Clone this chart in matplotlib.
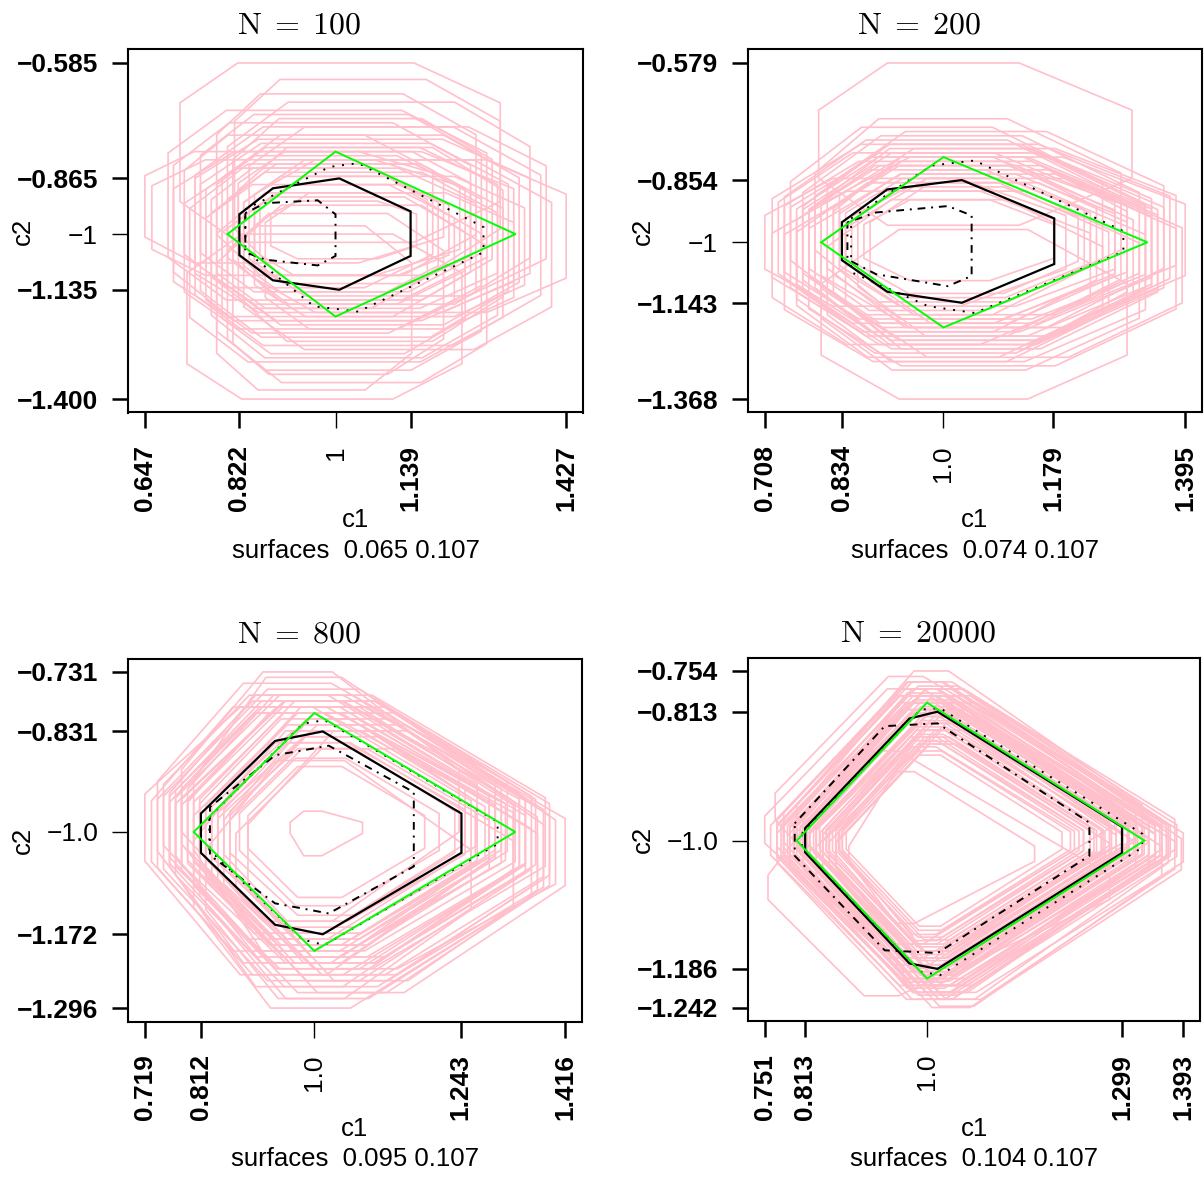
import matplotlib
matplotlib.use('Agg')
import matplotlib.pyplot as plt
from matplotlib.patches import Polygon

plt.rcParams['font.family'] = ['Liberation Sans', 'DejaVu Sans']
plt.rcParams['mathtext.fontset'] = 'cm'

W, H = 1204, 1178

# ---------------- data ----------------
titles = [r'$\mathrm{N}\;=\;100$', r'$\mathrm{N}\;=\;200$', r'$\mathrm{N}\;=\;800$', r'$\mathrm{N}\;=\;20000$']
surface_est = [0.065, 0.074, 0.095, 0.104]
surface_true = [0.107, 0.107, 0.107, 0.107]

xticks_n100 = [0.647, 0.822, 1.0, 1.139, 1.427]
xlabels_n100 = ['0.647', '0.822', '1', '1.139', '1.427']
yticks_n100 = [-1.400, -1.135, -1.0, -0.865, -0.585]
ylabels_n100 = ['\u22121.400', '\u22121.135', '\u22121', '\u22120.865', '\u22120.585']

xticks_n200 = [0.708, 0.834, 1.0, 1.179, 1.395]
xlabels_n200 = ['0.708', '0.834', '1.0', '1.179', '1.395']
yticks_n200 = [-1.368, -1.143, -1.0, -0.854, -0.579]
ylabels_n200 = ['\u22121.368', '\u22121.143', '\u22121', '\u22120.854', '\u22120.579']

xticks_n800 = [0.719, 0.812, 1.0, 1.243, 1.416]
xlabels_n800 = ['0.719', '0.812', '1.0', '1.243', '1.416']
yticks_n800 = [-1.296, -1.172, -1.0, -0.831, -0.731]
ylabels_n800 = ['\u22121.296', '\u22121.172', '\u22121.0', '\u22120.831', '\u22120.731']

xticks_n20000 = [0.751, 0.813, 1.0, 1.299, 1.393]
xlabels_n20000 = ['0.751', '0.813', '1.0', '1.299', '1.393']
yticks_n20000 = [-1.242, -1.186, -1.0, -0.813, -0.754]
ylabels_n20000 = ['\u22121.242', '\u22121.186', '\u22121.0', '\u22120.813', '\u22120.754']

# true region (green kite)
green_x = [0.8, 1.0, 1.3333, 1.0]
green_y = [-1.0, -0.8, -1.0, -1.2]

# estimated regions (black): solid, dotted (outer), dot-dash (inner)
solid_n100_x = [0.822, 0.884, 1.007, 1.139, 1.139, 1.007, 0.884, 0.822]
solid_n100_y = [-0.952, -0.889, -0.865, -0.945, -1.053, -1.135, -1.112, -1.051]
dotted_n100_x = [0.833, 0.989, 1.042, 1.274, 1.274, 1.042, 0.960, 0.833]
dotted_n100_y = [-0.940, -0.837, -0.828, -0.983, -1.044, -1.188, -1.175, -1.040]
dotdash_n100_x = [0.833, 0.870, 0.967, 1.000, 1.000, 0.967, 0.870, 0.833]
dotdash_n100_y = [-0.949, -0.925, -0.918, -0.952, -1.053, -1.076, -1.062, -1.044]

solid_n200_x = [0.834, 0.908, 1.030, 1.181, 1.181, 1.030, 0.908, 0.834]
solid_n200_y = [-0.953, -0.876, -0.854, -0.944, -1.051, -1.142, -1.116, -1.042]
dotted_n200_x = [0.849, 0.980, 1.051, 1.294, 1.294, 1.051, 0.975, 0.849]
dotted_n200_y = [-0.944, -0.820, -0.808, -0.974, -1.022, -1.166, -1.150, -1.070]
dotdash_n200_x = [0.843, 0.890, 1.007, 1.046, 1.046, 1.007, 0.890, 0.843]
dotdash_n200_y = [-0.953, -0.930, -0.915, -0.937, -1.079, -1.103, -1.075, -1.040]

solid_n800_x = [0.812, 0.935, 1.014, 1.244, 1.244, 1.014, 0.935, 0.812]
solid_n800_y = [-0.969, -0.847, -0.831, -0.969, -1.035, -1.172, -1.156, -1.035]
dotted_n800_x = [0.826, 0.981, 1.017, 1.304, 1.304, 1.017, 0.981, 0.826]
dotted_n800_y = [-0.975, -0.818, -0.812, -0.983, -1.020, -1.190, -1.181, -1.030]
dotdash_n800_x = [0.827, 0.935, 1.024, 1.165, 1.165, 1.024, 0.935, 0.827]
dotdash_n800_y = [-0.958, -0.871, -0.855, -0.933, -1.058, -1.137, -1.120, -1.039]

solid_n20000_x = [0.813, 0.973, 1.016, 1.299, 1.299, 1.016, 0.973, 0.813]
solid_n20000_y = [-0.982, -0.823, -0.813, -0.980, -1.018, -1.186, -1.178, -1.017]
dotted_n20000_x = [0.808, 0.990, 1.020, 1.330, 1.330, 1.020, 0.990, 0.808]
dotted_n20000_y = [-0.990, -0.810, -0.808, -0.990, -1.010, -1.195, -1.190, -1.010]
dotdash_n20000_x = [0.797, 0.935, 1.016, 1.249, 1.249, 1.016, 0.935, 0.797]
dotdash_n20000_y = [-0.975, -0.834, -0.830, -0.974, -1.022, -1.163, -1.159, -1.022]

# replicate regions (pink): (c1 min, c1 max, c2 min, c2 max, c1 of top/bottom corner, c2 of left/right corner)
pink_n100 = [
    (0.647, 1.20, -1.07, -0.80, 0.85, -0.93), (0.85, 1.427, -1.19, -0.82, 1.10, -1.005),
    (0.712, 1.305, -1.02, -0.585, 0.95, -0.80), (0.813, 1.305, -1.10, -0.625, 1.00, -0.85),
    (0.725, 1.234, -1.40, -1.00, 0.95, -1.21), (0.78, 1.141, -1.378, -0.98, 0.95, -1.18),
    (0.78, 1.27, -1.33, -0.90, 0.98, -1.12), (0.70, 1.25, -1.20, -0.73, 0.93, -0.96),
    (0.75, 1.32, -1.25, -0.78, 1.00, -1.00), (0.80, 1.36, -1.17, -0.68, 1.05, -0.92),
    (0.72, 1.18, -1.13, -0.76, 0.90, -0.95), (0.77, 1.30, -1.30, -0.85, 0.99, -1.07),
    (0.82, 1.25, -1.12, -0.80, 1.01, -0.97), (0.74, 1.38, -1.27, -0.74, 1.02, -1.00),
    (0.86, 1.21, -1.10, -0.88, 1.00, -0.99), (0.88, 1.15, -1.06, -0.92, 0.99, -0.99),
    (0.69, 1.28, -1.16, -0.70, 0.93, -0.93), (0.79, 1.34, -1.22, -0.76, 1.03, -0.99),
    (0.83, 1.40, -1.28, -0.82, 1.08, -1.05), (0.76, 1.22, -1.24, -0.88, 0.95, -1.06),
    (0.81, 1.29, -1.16, -0.72, 1.00, -0.94), (0.73, 1.31, -1.31, -0.83, 0.97, -1.07),
    (0.85, 1.35, -1.20, -0.86, 1.06, -1.03), (0.78, 1.26, -1.10, -0.66, 0.96, -0.88),
    (0.80, 1.20, -1.34, -0.95, 0.97, -1.15), (0.70, 1.33, -1.21, -0.80, 0.95, -1.00),
    (0.84, 1.39, -1.15, -0.74, 1.07, -0.95), (0.77, 1.17, -1.18, -0.84, 0.94, -1.01),
    (0.82, 1.31, -1.26, -0.79, 1.02, -1.02), (0.75, 1.27, -1.14, -0.71, 0.97, -0.93),
    (0.79, 1.24, -1.29, -0.91, 0.99, -1.10), (0.66, 1.23, -1.10, -0.82, 0.88, -0.96),
    (0.87, 1.33, -1.23, -0.90, 1.05, -1.06), (0.74, 1.36, -1.19, -0.77, 1.00, -0.98),
    (0.81, 1.28, -1.36, -0.93, 1.01, -1.15), (0.83, 1.19, -1.14, -0.86, 0.98, -1.00),
    (0.76, 1.24, -1.17, -0.81, 0.96, -0.99), (0.80, 1.27, -1.21, -0.83, 1.00, -1.02),
    (0.78, 1.30, -1.18, -0.79, 0.98, -0.99), (0.72, 1.26, -1.23, -0.84, 0.94, -1.03),
]

pink_n200 = [
    (0.708, 1.20, -1.15, -0.85, 0.90, -1.00), (0.74, 1.29, -1.22, -0.76, 0.97, -0.99),
    (0.77, 1.35, -1.25, -0.79, 1.02, -1.02), (0.80, 1.395, -1.20, -0.80, 1.05, -0.99),
    (0.796, 1.308, -0.96, -0.579, 0.99, -0.77), (0.80, 1.30, -1.368, -0.97, 1.02, -1.19),
    (0.75, 1.26, -1.17, -0.73, 0.95, -0.95), (0.78, 1.38, -1.29, -0.84, 1.04, -1.06),
    (0.72, 1.24, -1.24, -0.88, 0.93, -1.05), (0.82, 1.33, -1.18, -0.81, 1.01, -1.00),
    (0.76, 1.31, -1.26, -0.82, 0.98, -1.04), (0.79, 1.37, -1.23, -0.77, 1.00, -0.98),
    (0.83, 1.28, -1.15, -0.84, 1.00, -1.00), (0.85, 1.22, -1.12, -0.87, 1.01, -0.99),
    (0.87, 1.18, -1.09, -0.90, 1.00, -1.00), (0.74, 1.33, -1.28, -0.86, 0.99, -1.07),
    (0.81, 1.36, -1.20, -0.74, 1.03, -0.96), (0.73, 1.28, -1.19, -0.79, 0.94, -0.99),
    (0.84, 1.39, -1.27, -0.85, 1.07, -1.05), (0.77, 1.25, -1.21, -0.80, 0.96, -1.00),
    (0.80, 1.32, -1.30, -0.88, 1.00, -1.09), (0.79, 1.29, -1.14, -0.71, 0.97, -0.93),
    (0.75, 1.36, -1.24, -0.79, 1.00, -1.01), (0.86, 1.34, -1.22, -0.83, 1.05, -1.02),
    (0.78, 1.23, -1.16, -0.83, 0.95, -0.99), (0.82, 1.30, -1.25, -0.80, 1.01, -1.02),
    (0.72, 1.34, -1.21, -0.77, 0.97, -0.99), (0.83, 1.38, -1.17, -0.78, 1.04, -0.97),
    (0.76, 1.27, -1.27, -0.86, 0.96, -1.06), (0.80, 1.35, -1.23, -0.82, 1.02, -1.02),
    (0.88, 1.30, -1.19, -0.86, 1.05, -1.02), (0.77, 1.32, -1.20, -0.75, 0.99, -0.98),
    (0.81, 1.26, -1.28, -0.90, 0.99, -1.09), (0.74, 1.30, -1.18, -0.81, 0.95, -0.99),
    (0.79, 1.33, -1.24, -0.78, 1.00, -1.01), (0.84, 1.24, -1.13, -0.85, 1.00, -0.99),
    (0.78, 1.28, -1.19, -0.82, 0.98, -1.00), (0.76, 1.34, -1.22, -0.80, 0.99, -1.01),
]

pink_n800 = [
    (0.89, 1.183, -1.11, -0.89, 1.00, -1.00),
    (0.876, 1.207, -1.124, -0.876, 1.00, -1.00), (0.86, 1.233, -1.14, -0.86, 1.01, -1.00),
    (0.85, 1.25, -1.15, -0.85, 0.99, -1.00), (0.84, 1.267, -1.16, -0.84, 1.00, -1.00),
    (0.83, 1.283, -1.17, -0.83, 1.01, -1.00), (0.82, 1.30, -1.18, -0.82, 1.00, -1.00),
    (0.81, 1.317, -1.19, -0.81, 0.99, -1.00), (0.80, 1.333, -1.20, -0.80, 1.00, -1.00),
    (0.79, 1.35, -1.21, -0.79, 1.00, -1.00), (0.78, 1.367, -1.22, -0.78, 1.01, -1.00),
    (0.77, 1.383, -1.23, -0.77, 1.00, -1.00), (0.77, 1.30, -1.22, -0.78, 0.96, -0.98),
    (0.75, 1.36, -1.25, -0.76, 0.98, -1.00), (0.82, 1.38, -1.24, -0.79, 1.03, -1.02),
    (0.79, 1.27, -1.19, -0.80, 0.97, -1.00), (0.76, 1.34, -1.26, -0.77, 0.95, -0.99),
    (0.85, 1.40, -1.23, -0.80, 1.05, -1.04), (0.78, 1.25, -1.17, -0.80, 0.94, -0.97),
    (0.81, 1.36, -1.28, -0.83, 1.00, -1.05), (0.719, 1.29, -1.24, -0.79, 0.93, -0.985),
    (0.84, 1.416, -1.27, -0.82, 1.06, -1.03), (0.78, 1.24, -1.15, -0.731, 0.96, -0.95),
    (0.80, 1.33, -1.296, -0.85, 0.97, -1.07), (0.74, 1.32, -1.22, -0.75, 0.93, -0.97),
    (0.77, 1.39, -1.26, -0.78, 1.01, -1.01), (0.84, 1.33, -1.22, -0.84, 1.03, -1.01),
    (0.76, 1.31, -1.21, -0.80, 0.95, -1.00), (0.87, 1.37, -1.24, -0.86, 1.06, -1.05),
    (0.75, 1.27, -1.18, -0.77, 0.94, -0.97), (0.73, 1.26, -1.20, -0.79, 0.91, -1.00),
    (0.89, 1.38, -1.25, -0.83, 1.08, -1.04), (0.82, 1.26, -1.28, -0.88, 0.98, -1.08),
    (0.80, 1.30, -1.21, -0.74, 0.96, -0.97), (0.96, 1.08, -1.04, -0.965, 0.99, -0.99),
    (0.86, 1.29, -1.19, -0.86, 1.02, -1.02), (0.78, 1.33, -1.23, -0.79, 0.99, -1.01),
    (0.81, 1.35, -1.22, -0.78, 1.02, -1.00), (0.76, 1.29, -1.20, -0.79, 0.96, -0.99),
    (0.83, 1.37, -1.25, -0.81, 1.04, -1.03), (0.79, 1.31, -1.18, -0.77, 0.98, -0.98),
    (0.74, 1.34, -1.24, -0.78, 0.95, -1.00), (0.86, 1.35, -1.21, -0.83, 1.04, -1.02),
    (0.80, 1.39, -1.27, -0.80, 1.03, -1.03),
]

pink_n20000 = [
    (0.876, 1.207, -1.124, -0.876, 1.00, -1.00), (0.870, 1.22, -1.13, -0.87, 1.00, -1.00),
    (0.864, 1.226, -1.136, -0.864, 0.99, -1.00), (0.86, 1.233, -1.14, -0.86, 1.00, -1.00),
    (0.866, 1.25, -1.144, -0.856, 1.01, -1.00), (0.85, 1.25, -1.15, -0.85, 1.00, -1.00),
    (0.846, 1.256, -1.154, -0.846, 1.00, -1.00), (0.84, 1.267, -1.16, -0.84, 1.00, -1.00),
    (0.836, 1.273, -1.17, -0.84, 1.00, -1.005), (0.83, 1.283, -1.17, -0.83, 1.00, -1.00),
    (0.826, 1.29, -1.174, -0.826, 1.01, -1.00), (0.82, 1.30, -1.18, -0.82, 1.00, -1.00),
    (0.816, 1.307, -1.184, -0.816, 0.99, -1.00), (0.81, 1.317, -1.19, -0.81, 1.00, -1.00),
    (0.806, 1.323, -1.194, -0.806, 1.01, -1.00), (0.80, 1.333, -1.20, -0.80, 1.00, -1.00),
    (0.796, 1.34, -1.204, -0.796, 1.00, -1.00), (0.79, 1.35, -1.21, -0.79, 1.00, -1.00),
    (0.786, 1.357, -1.214, -0.786, 0.99, -1.00), (0.78, 1.367, -1.22, -0.78, 1.00, -1.00),
    (0.776, 1.373, -1.224, -0.776, 1.01, -1.00), (0.77, 1.383, -1.23, -0.77, 1.00, -1.00),
    (0.80, 1.36, -1.21, -0.78, 1.02, -0.99), (0.82, 1.37, -1.23, -0.80, 1.04, -1.01),
    (0.78, 1.32, -1.19, -0.78, 0.98, -0.99), (0.79, 1.34, -1.22, -0.80, 1.00, -1.02),
    (0.84, 1.35, -1.21, -0.82, 1.03, -1.01), (0.77, 1.30, -1.18, -0.79, 0.97, -0.99),
    (0.81, 1.39, -1.242, -0.79, 1.03, -1.02), (0.751, 1.30, -1.17, -0.78, 0.96, -0.985),
    (0.82, 1.393, -1.22, -0.80, 1.04, -1.01), (0.80, 1.33, -1.17, -0.754, 1.00, -0.97),
    (0.767, 1.30, -1.15, -0.762, 0.96, -0.95), (0.756, 1.28, -1.225, -0.87, 0.92, -1.07),
    (0.88, 1.165, -1.12, -0.90, 0.96, -1.02), (0.85, 1.30, -1.19, -0.83, 1.02, -1.01),
    (0.83, 1.24, -1.15, -0.85, 0.99, -1.00), (0.86, 1.28, -1.18, -0.86, 1.02, -1.02),
    (0.79, 1.31, -1.20, -0.81, 0.99, -1.00), (0.87, 1.26, -1.16, -0.85, 1.01, -1.00),
    (0.81, 1.31, -1.18, -0.80, 0.99, -0.99), (0.79, 1.36, -1.21, -0.79, 1.01, -1.00),
    (0.83, 1.33, -1.19, -0.81, 1.02, -1.00), (0.80, 1.29, -1.17, -0.81, 0.98, -0.99),
    (0.78, 1.34, -1.20, -0.77, 0.99, -0.98), (0.82, 1.35, -1.22, -0.81, 1.03, -1.01),
    (0.84, 1.38, -1.23, -0.83, 1.05, -1.02), (0.77, 1.33, -1.20, -0.79, 0.98, -1.00),
    (0.85, 1.32, -1.20, -0.84, 1.03, -1.02), (0.80, 1.38, -1.22, -0.78, 1.02, -0.99),
    (0.76, 1.35, -1.21, -0.78, 0.98, -1.00), (0.82, 1.28, -1.16, -0.82, 0.99, -0.99),
    (0.79, 1.30, -1.19, -0.80, 0.98, -1.01), (0.83, 1.36, -1.24, -0.82, 1.04, -1.03),
    (0.81, 1.34, -1.21, -0.79, 1.01, -1.00), (0.78, 1.37, -1.22, -0.78, 1.00, -1.00),
    (0.86, 1.34, -1.21, -0.84, 1.04, -1.02), (0.80, 1.32, -1.18, -0.77, 0.99, -0.98),
    (0.84, 1.29, -1.18, -0.83, 1.01, -1.01), (0.77, 1.36, -1.23, -0.80, 0.99, -1.01),
    (0.855, 1.24, -1.145, -0.855, 0.99, -1.00), (0.845, 1.27, -1.16, -0.84, 1.01, -1.00),
    (0.835, 1.28, -1.165, -0.835, 1.00, -0.995), (0.815, 1.31, -1.185, -0.815, 1.00, -1.005),
    (0.805, 1.33, -1.195, -0.80, 1.01, -1.00), (0.795, 1.35, -1.205, -0.79, 0.99, -1.00),
]

# ---------------- panel assembly ----------------
panels = [
    dict(title=titles[0], pink=pink_n100, flat=0.55,
         xt=xticks_n100, xl=xlabels_n100, yt=yticks_n100, yl=ylabels_n100,
         solid=(solid_n100_x, solid_n100_y), dotted=(dotted_n100_x, dotted_n100_y),
         dotdash=(dotdash_n100_x, dotdash_n100_y), box=(128, 49.5, 583, 412.5)),
    dict(title=titles[1], pink=pink_n200, flat=0.42,
         xt=xticks_n200, xl=xlabels_n200, yt=yticks_n200, yl=ylabels_n200,
         solid=(solid_n200_x, solid_n200_y), dotted=(dotted_n200_x, dotted_n200_y),
         dotdash=(dotdash_n200_x, dotdash_n200_y), box=(748, 49.5, 1202, 412.5)),
    dict(title=titles[2], pink=pink_n800, flat=0.25,
         xt=xticks_n800, xl=xlabels_n800, yt=yticks_n800, yl=ylabels_n800,
         solid=(solid_n800_x, solid_n800_y), dotted=(dotted_n800_x, dotted_n800_y),
         dotdash=(dotdash_n800_x, dotdash_n800_y), box=(128, 658.5, 582, 1021.5)),
    dict(title=titles[3], pink=pink_n20000, flat=0.1,
         xt=xticks_n20000, xl=xlabels_n20000, yt=yticks_n20000, yl=ylabels_n20000,
         solid=(solid_n20000_x, solid_n20000_y), dotted=(dotted_n20000_x, dotted_n20000_y),
         dotdash=(dotdash_n20000_x, dotdash_n20000_y), box=(748, 657.5, 1200, 1021)),
]


def octagon(x0, x1, y0, y1, xm, ym, f):
    return [
        (x0, ym + f * (y1 - ym)), (xm - f * (xm - x0), y1),
        (xm + f * (x1 - xm), y1), (x1, ym + f * (y1 - ym)),
        (x1, ym - f * (ym - y0)), (xm + f * (x1 - xm), y0),
        (xm - f * (xm - x0), y0), (x0, ym - f * (ym - y0)),
    ]


fig = plt.figure(figsize=(W / 100, H / 100), dpi=100)
FS_TICK = 19
FS_LAB = 18.5

for i, p in enumerate(panels):
    L, T, R, B = p['box']
    ax = fig.add_axes([L / W, 1 - B / H, (R - L) / W, (B - T) / H])
    for s in ax.spines.values():
        s.set_linewidth(1.5)
    for (x0, x1, y0, y1, xm, ym) in p['pink']:
        ax.add_patch(Polygon(octagon(x0, x1, y0, y1, xm, ym, p['flat']), closed=True,
                             fill=False, ec='#FFC0CB', lw=1.2, zorder=1))
    ax.add_patch(Polygon(list(zip(*p['solid'])), closed=True, fill=False, ec='black', lw=1.6, zorder=3))
    ax.add_patch(Polygon(list(zip(*p['dotted'])), closed=True, fill=False, ec='black', lw=1.4,
                         ls=(0, (1, 4)), zorder=4))
    ax.add_patch(Polygon(list(zip(*p['dotdash'])), closed=True, fill=False, ec='black', lw=1.4,
                         ls=(0, (1, 3, 4, 3)), zorder=4))
    ax.add_patch(Polygon(list(zip(green_x, green_y)), closed=True, fill=False, ec='#00FF00', lw=1.4, zorder=5))

    xr = p['xt'][-1] - p['xt'][0]
    yr = p['yt'][-1] - p['yt'][0]
    ax.set_xlim(p['xt'][0] - 0.04 * xr, p['xt'][-1] + 0.04 * xr)
    ax.set_ylim(p['yt'][0] - 0.04 * yr, p['yt'][-1] + 0.04 * yr)

    ax.set_xticks(p['xt'])
    ax.set_xticklabels(p['xl'], rotation=90, fontsize=FS_TICK)
    ax.set_yticks(p['yt'])
    ax.set_yticklabels(p['yl'], fontsize=FS_TICK)
    ax.tick_params(axis='both', direction='out', length=11.5, width=1.8)
    ax.tick_params(axis='y', pad=10)
    ax.tick_params(axis='x', pad=12)
    for k, lab in enumerate(ax.get_xticklabels()):
        lab.set_fontweight('normal' if k == 2 else 'bold')
    for k, lab in enumerate(ax.get_yticklabels()):
        lab.set_fontweight('normal' if k == 2 else 'bold')
    ax.xaxis.get_major_ticks()[2].tick1line.set_markeredgewidth(1.0)
    ax.yaxis.get_major_ticks()[2].tick1line.set_markeredgewidth(1.0)

    cx = (L + R) / 2
    cy = (T + B) / 2
    fig.text((cx - 56) / W, 1 - (T - 16) / H, p['title'], ha='center', va='baseline', fontsize=23)
    fig.text(cx / W, 1 - (B + 108) / H, 'c1', ha='center', va='center', fontsize=FS_LAB)
    fig.text((L - 105) / W, 1 - cy / H, 'c2', ha='center', va='center', rotation=90, fontsize=FS_LAB)
    fig.text(cx / W, 1 - (B + 138) / H,
             'surfaces  %.3f %.3f' % (surface_est[i], surface_true[i]),
             ha='center', va='center', fontsize=FS_LAB)

fig.savefig('out.png', dpi=100)
